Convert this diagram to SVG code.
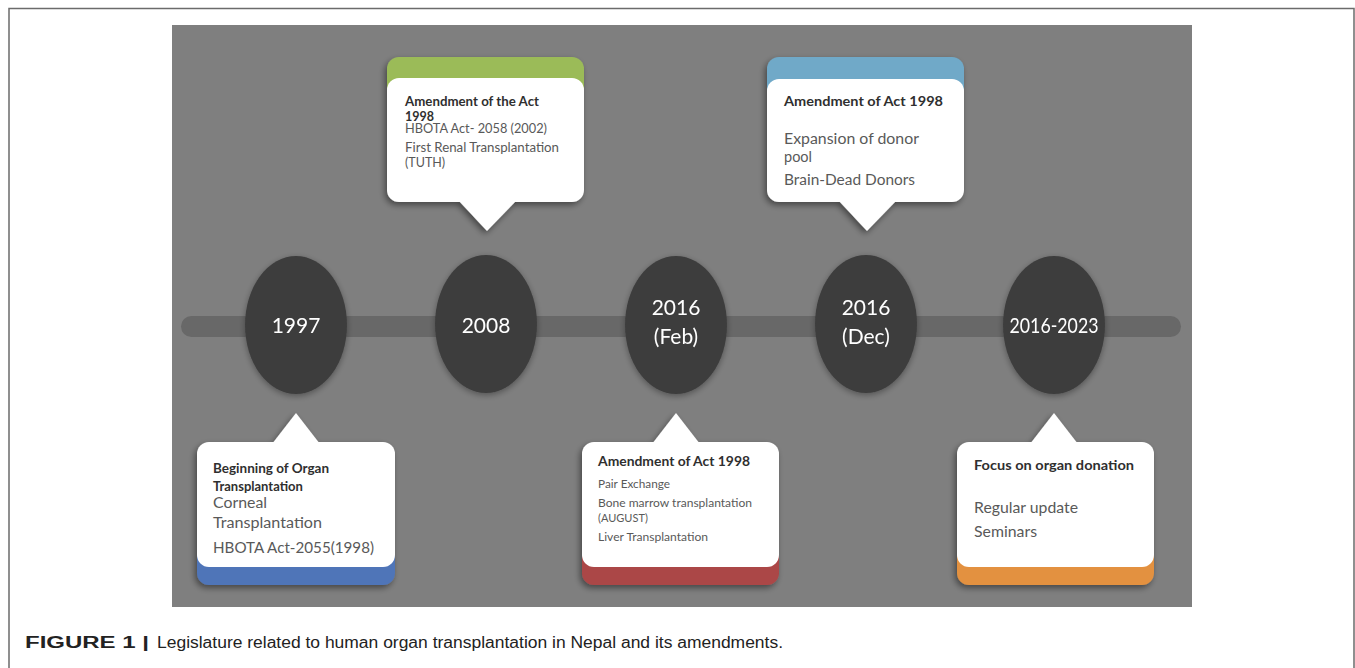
<svg xmlns="http://www.w3.org/2000/svg" width="1355" height="668" viewBox="0 0 1355 668">
<style>
.frame{stroke:#6b6b6b;stroke-width:1.5;fill:none}
.panel{fill:#7f7f7f}
.bar{fill:#686868}
.node{fill:#3e3e3e}
.yr{font-family:Lato,"Open Sans",sans-serif;font-size:21px;fill:#ffffff;text-anchor:middle}
.card{fill:#ffffff}
.hd{font-family:Lato,"Open Sans",sans-serif;font-weight:bold;fill:#2f2f2f}
.tx{font-family:Lato,"Open Sans",sans-serif;fill:#595959}
.cap{font-family:"Liberation Sans",Arial,sans-serif;font-size:16px;fill:#222}
</style>
<defs>
<filter id="sh" x="-20%" y="-20%" width="140%" height="150%">
<feDropShadow dx="-2" dy="3" stdDeviation="3" flood-color="#000" flood-opacity="0.45"/>
</filter>
<filter id="esh" x="-20%" y="-20%" width="140%" height="140%">
<feDropShadow dx="0" dy="2" stdDeviation="3" flood-color="#000" flood-opacity="0.35"/>
</filter>
</defs>
<rect width="1355" height="668" fill="#ffffff"/>
<path class="frame" d="M9 668 V8.5 H1354 V668"/>
<rect class="panel" x="172" y="25" width="1020" height="582"/>

<g id="connectors">
<rect class="bar" x="181" y="316" width="1000" height="21" rx="10.5"/>
</g>

<g id="node-1997" filter="url(#esh)">
<ellipse class="node" cx="296" cy="325" rx="51" ry="69"/>
<text class="yr" x="296" y="333">1997</text>
</g>
<g id="node-2008" filter="url(#esh)">
<ellipse class="node" cx="486" cy="324" rx="51" ry="69"/>
<text class="yr" x="486" y="333">2008</text>
</g>
<g id="node-2016feb" filter="url(#esh)">
<ellipse class="node" cx="676" cy="325" rx="51" ry="69"/>
<text class="yr" x="676" y="315">2016</text>
<text class="yr" x="676" y="344">(Feb)</text>
</g>
<g id="node-2016dec" filter="url(#esh)">
<ellipse class="node" cx="866" cy="324" rx="51" ry="69"/>
<text class="yr" x="866" y="315">2016</text>
<text class="yr" x="866" y="344">(Dec)</text>
</g>
<g id="node-2016-2023" filter="url(#esh)">
<ellipse class="node" cx="1054" cy="325" rx="51" ry="69"/>
<text class="yr" x="1054" y="333" textLength="89" lengthAdjust="spacingAndGlyphs">2016-2023</text>
</g>

<g id="callout-2008">
<g filter="url(#sh)">
<rect x="387" y="57" width="197" height="60" rx="12" fill="#9bbb59"/>
<rect class="card" x="387" y="78" width="197" height="124" rx="12"/>
<polygon class="card" points="458,200 517,200 487,231"/>
</g>
<text class="hd" x="405" y="106" font-size="12.5" textLength="134" lengthAdjust="spacingAndGlyphs">Amendment of the Act</text>
<text class="hd" x="405" y="121" font-size="12.5">1998</text>
<text class="tx" x="405" y="133" font-size="12.5" textLength="142" lengthAdjust="spacingAndGlyphs">HBOTA Act- 2058 (2002)</text>
<text class="tx" x="405" y="152" font-size="12.5" textLength="154" lengthAdjust="spacingAndGlyphs">First Renal Transplantation</text>
<text class="tx" x="405" y="167" font-size="12.5">(TUTH)</text>
</g>

<g id="callout-2016dec">
<g filter="url(#sh)">
<rect x="767" y="57" width="197" height="60" rx="12" fill="#70a9c8"/>
<rect class="card" x="767" y="79" width="197" height="123" rx="12"/>
<polygon class="card" points="838,200 897,200 867,231"/>
</g>
<text class="hd" x="784" y="106" font-size="13.5" textLength="159" lengthAdjust="spacingAndGlyphs">Amendment of Act 1998</text>
<text class="tx" x="784" y="144" font-size="14.5" textLength="135" lengthAdjust="spacingAndGlyphs">Expansion of donor</text>
<text class="tx" x="784" y="162" font-size="14.5">pool</text>
<text class="tx" x="784" y="185" font-size="14.5" textLength="131" lengthAdjust="spacingAndGlyphs">Brain-Dead Donors</text>
</g>

<g id="callout-1997">
<g filter="url(#sh)">
<rect x="197" y="530" width="198" height="55" rx="12" fill="#4f75b8"/>
<rect class="card" x="197" y="442" width="198" height="125" rx="12"/>
<polygon class="card" points="272,444 320,444 296,413"/>
</g>
<text class="hd" x="213" y="473" font-size="13" textLength="116" lengthAdjust="spacingAndGlyphs">Beginning of Organ</text>
<text class="hd" x="213" y="491" font-size="13">Transplantation</text>
<text class="tx" x="213" y="508" font-size="15.5" textLength="54" lengthAdjust="spacingAndGlyphs">Corneal</text>
<text class="tx" x="213" y="528" font-size="15.5" textLength="109" lengthAdjust="spacingAndGlyphs">Transplantation</text>
<text class="tx" x="213" y="553" font-size="15.5" textLength="161" lengthAdjust="spacingAndGlyphs">HBOTA Act-2055(1998)</text>
</g>

<g id="callout-2016feb">
<g filter="url(#sh)">
<rect x="582" y="530" width="197" height="55" rx="12" fill="#ab4646"/>
<rect class="card" x="582" y="442" width="197" height="125" rx="12"/>
<polygon class="card" points="652,444 700,444 676,413"/>
</g>
<text class="hd" x="598" y="466" font-size="14" textLength="152" lengthAdjust="spacingAndGlyphs">Amendment of Act 1998</text>
<text class="tx" x="598" y="488" font-size="11" textLength="72" lengthAdjust="spacingAndGlyphs">Pair Exchange</text>
<text class="tx" x="598" y="507" font-size="11" textLength="154" lengthAdjust="spacingAndGlyphs">Bone marrow transplantation</text>
<text class="tx" x="598" y="522" font-size="11">(AUGUST)</text>
<text class="tx" x="598" y="541" font-size="11" textLength="110" lengthAdjust="spacingAndGlyphs">Liver Transplantation</text>
</g>

<g id="callout-2016-2023">
<g filter="url(#sh)">
<rect x="957" y="530" width="197" height="55" rx="12" fill="#e3913f"/>
<rect class="card" x="957" y="442" width="197" height="125" rx="12"/>
<polygon class="card" points="1030,444 1078,444 1054,413"/>
</g>
<text class="hd" x="974" y="470" font-size="13" textLength="160" lengthAdjust="spacingAndGlyphs">Focus on organ donation</text>
<text class="tx" x="974" y="513" font-size="15" textLength="104" lengthAdjust="spacingAndGlyphs">Regular update</text>
<text class="tx" x="974" y="537" font-size="15" textLength="63" lengthAdjust="spacingAndGlyphs">Seminars</text>
</g>

<g id="caption">
<text class="cap" x="25" y="648" font-weight="bold" textLength="124" lengthAdjust="spacingAndGlyphs">FIGURE 1 |</text>
<text class="cap" x="157" y="648" textLength="626" lengthAdjust="spacingAndGlyphs">Legislature related to human organ transplantation in Nepal and its amendments.</text>
</g>
</svg>
